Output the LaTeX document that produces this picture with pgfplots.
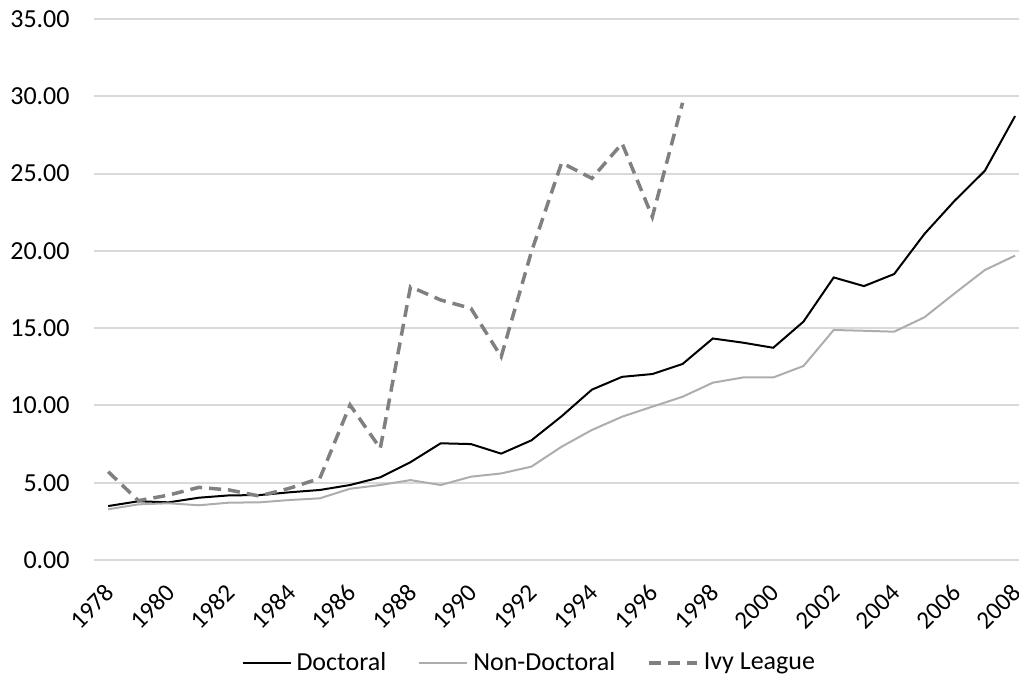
\documentclass[border=0pt]{standalone}
\usepackage{fontspec}
\setmainfont{Carlito}
\usepackage{pgfplots}
\pgfplotsset{compat=1.18}
\definecolor{gridc}{HTML}{D9D9D9}
\definecolor{nondoc}{HTML}{ADADAD}
\definecolor{ivy}{HTML}{808080}
\begin{document}
\begin{tikzpicture}[x=1pt,y=1pt]
\path[use as bounding box] (0,0) rectangle (509.5,342.5);
\begin{axis}[
  at={(47pt,62.5pt)}, anchor=south west,
  scale only axis, width=462.5pt, height=270.5pt,
  xmin=1977.53, xmax=2008.13, ymin=0, ymax=35,
  xtick={1978,1980,...,2008},
  ytick={0,5,...,35},
  axis line style={draw=none},
  major tick length=0pt,
  ymajorgrids, grid style={gridc, line width=1pt},
  /pgf/number format/assume math mode=true,
  font=\fontsize{13}{15}\selectfont,
  yticklabel={\pgfmathprintnumber[fixed,fixed zerofill,precision=2]{\tick}},
  yticklabel style={anchor=east, inner sep=0pt, xshift=-12pt},
  xticklabel style={/pgf/number format/1000 sep={}, font=\fontsize{12.5}{15}\selectfont, xshift=1pt, yshift=-14.25pt, rotate=45, anchor=east, inner sep=0pt},
  legend columns=3,
  legend cell align=left,
  legend style={at={(0.470,-0.190)}, anchor=center, draw=none, fill=none,
    font=\fontsize{13}{15}\selectfont, column sep=0pt, inner sep=0pt,
    /tikz/every odd column/.append style={column sep=2pt},
    /tikz/every even column/.append style={column sep=15.5pt},
    nodes={inner sep=0.5pt}},
  legend image code/.code={\draw[#1] (0pt,0pt) -- (24pt,0pt);},
]
\addplot[black, line width=1pt] coordinates {
(1978,3.49) (1979,3.80) (1980,3.73) (1981,4.03) (1982,4.18) (1983,4.20) (1984,4.38) (1985,4.53) (1986,4.85) (1987,5.35) (1988,6.33) (1989,7.55) (1990,7.50) (1991,6.88) (1992,7.74) (1993,9.30) (1994,11.02) (1995,11.85) (1996,12.03) (1997,12.68) (1998,14.33) (1999,14.06) (2000,13.73) (2001,15.42) (2002,18.28) (2003,17.72) (2004,18.50) (2005,21.09) (2006,23.24) (2007,25.18) (2008,28.72)};
\addlegendentry{Doctoral}
\addplot[nondoc, line width=1pt] coordinates {
(1978,3.28) (1979,3.60) (1980,3.67) (1981,3.54) (1982,3.71) (1983,3.73) (1984,3.88) (1985,3.99) (1986,4.61) (1987,4.85) (1988,5.17) (1989,4.85) (1990,5.39) (1991,5.60) (1992,6.04) (1993,7.33) (1994,8.41) (1995,9.27) (1996,9.92) (1997,10.56) (1998,11.47) (1999,11.81) (2000,11.81) (2001,12.55) (2002,14.88) (2003,14.83) (2004,14.77) (2005,15.70) (2006,17.25) (2007,18.76) (2008,19.69)};
\addlegendentry{Non-Doctoral}
\addplot[ivy, line width=1.75pt, dash pattern=on 6pt off 3.5pt] coordinates {
(1978,5.71) (1979,3.84) (1980,4.20) (1981,4.70) (1982,4.53) (1983,4.14) (1984,4.64) (1985,5.28) (1986,10.03) (1987,7.22) (1988,17.68) (1989,16.82) (1990,16.28) (1991,13.15) (1992,19.94) (1993,25.70) (1994,24.69) (1995,26.95) (1996,22.20) (1997,29.58)};
\addlegendentry{Ivy League}
\end{axis}
\end{tikzpicture}
\end{document}
